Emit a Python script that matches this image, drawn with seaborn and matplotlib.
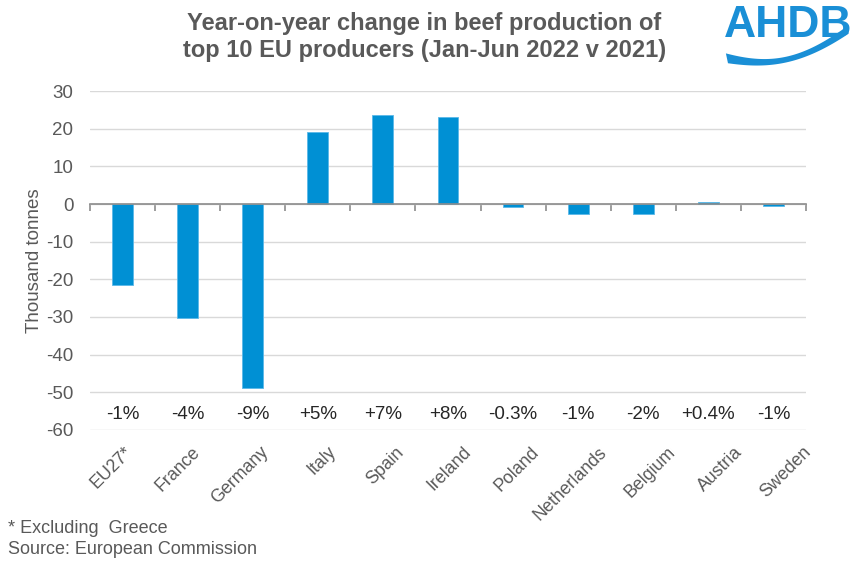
import numpy as np
import pandas as pd
import matplotlib
matplotlib.use("Agg")
import matplotlib.pyplot as plt
import seaborn as sns
from matplotlib.patches import Polygon

countries = ["EU27*", "France", "Germany", "Italy", "Spain", "Ireland",
             "Poland", "Netherlands", "Belgium", "Austria", "Sweden"]
change_kt = [-21.4, -30.4, -48.8, 19.1, 23.7, 23.2, -0.8, -2.7, -2.6, 0.4, -0.6]
pct_labels = ["-1%", "-4%", "-9%", "+5%", "+7%", "+8%", "-0.3%", "-1%", "-2%", "+0.4%", "-1%"]
yticks = [30, 20, 10, 0, -10, -20, -30, -40, -50, -60]

sns.set_theme(style="white")
plt.rcParams['font.family'] = ['Liberation Sans', 'DejaVu Sans']

GREY = "#595959"
BLUE = "#0090D4"

df = pd.DataFrame({"country": countries, "change": change_kt})

fig = plt.figure(figsize=(8.52, 5.62), dpi=100)
ax = fig.add_axes([0.1056, 0.235, 0.8404, 0.603])

sns.barplot(data=df, x="country", y="change", order=countries, color=BLUE,
            width=0.32, saturation=1, ax=ax, edgecolor="#5BB8E8", linewidth=0.6)

ax.set_ylim(-60, 30)
ax.set_xlim(-0.5, len(countries) - 0.5)
ax.set_yticks(yticks)
ax.set_yticklabels([str(v) for v in yticks], fontsize=13.5, color=GREY)
ax.yaxis.grid(True, color="#D9D9D9", linewidth=1)
ax.set_axisbelow(True)
ax.tick_params(axis='y', length=0, pad=12)

for s in ["left", "right", "top"]:
    ax.spines[s].set_visible(False)
ax.spines["bottom"].set_position(("data", 0))
ax.spines["bottom"].set_color("#8C8C8C")
ax.spines["bottom"].set_linewidth(1.2)
ax.spines["bottom"].set_zorder(5)
ax.set_xticks(np.arange(-0.5, len(countries), 1.0))
ax.set_xticklabels([])
ax.tick_params(axis='x', direction='out', length=5, width=1.2, color="#8C8C8C", bottom=True)

for i, (name, pct) in enumerate(zip(countries, pct_labels)):
    ax.text(i, -56, pct, ha="center", va="center", fontsize=13.5, color="#262626")
    ax.text(i * 1.042 + 0.02, -63.6, name, ha="right", va="top", rotation=45,
            rotation_mode="anchor", fontsize=12.8, color=GREY)

ax.set_xlabel("")
ax.set_ylabel("Thousand tonnes", fontsize=13.5, color=GREY, labelpad=2)

fig.text(0.498, 0.934, "Year-on-year change in beef production of\ntop 10 EU producers (Jan-Jun 2022 v 2021)",
         ha="center", va="center", fontsize=17, fontweight="bold", color=GREY, linespacing=1.25)

fig.text(0.009, 0.060, "* Excluding  Greece", fontsize=13, color=GREY, va="center")
fig.text(0.009, 0.022, "Source: European Commission", fontsize=13, color=GREY, va="center")

# logo
fig.text(0.925, 0.955, "AHDB", ha="center", va="center", fontsize=32, fontweight="bold",
         color="#1A8FD6")
xs = np.linspace(0.852, 0.996, 60)
t = (xs - xs[0]) / (xs[-1] - xs[0])
top = 0.905 - 0.018 * np.sin(np.pi * t) + 0.05 * t**2
bot = 0.888 - 0.010 * np.sin(np.pi * t) + 0.052 * t**2.2
bot[0] = top[0]
poly = np.vstack([np.column_stack([xs, top]), np.column_stack([xs[::-1], bot[::-1]])])
fig.patches.append(Polygon(poly, closed=True, transform=fig.transFigure,
                           facecolor="#1A8FD6", edgecolor="none"))

fig.savefig("out.png", dpi=100)
